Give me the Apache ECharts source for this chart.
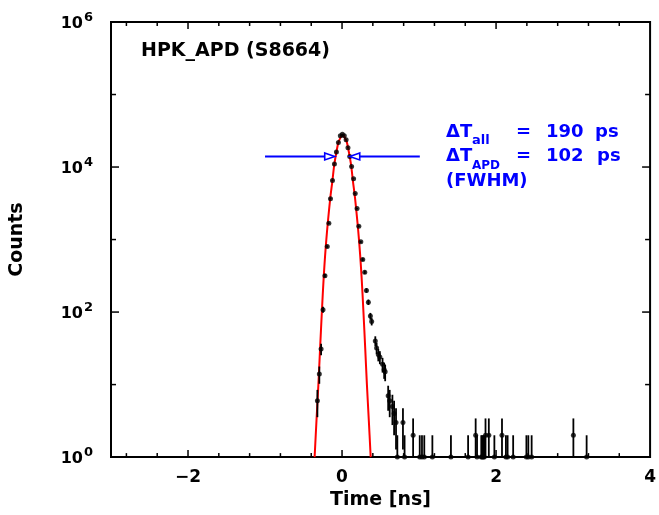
<!DOCTYPE html>
<html><head><meta charset="utf-8">
<script src="https://cdn.jsdelivr.net/npm/echarts@6/dist/echarts.min.js"></script>
<style>html,body{margin:0;padding:0;background:#fff}#c{width:659px;height:515px}</style>
</head><body><div id="c"></div>
<script>
const FONT = '"DejaVu Sans", sans-serif';

// measured histogram (time [ns], counts)
const dataTime = [-0.320,-0.295,-0.272,-0.247,-0.222,-0.192,-0.171,-0.150,-0.124,-0.099,-0.073,-0.047,-0.022,0.004,
  0.029,0.053,0.077,0.100,0.124,0.150,0.171,0.195,0.218,0.244,0.269,0.295,0.317,0.342,0.368,0.385,
  0.432,0.449,0.471,0.491,0.526,0.547,0.560,0.599,0.619,0.654,0.676,0.701,0.718,0.791,0.812,0.923,
  1.009,1.038,1.068,1.173,1.414,1.637,1.735,1.753,1.808,1.820,1.833,1.846,1.863,1.906,1.978,
  2.077,2.128,2.150,2.222,2.394,2.419,2.462,3.004,3.176];
const dataCounts = [6,14,31,108,317,800,1680,3660,6500,11000,16100,21800,27000,28400,
  27000,23800,18500,14000,10200,6900,4300,2670,1525,930,531,355,199,137,88,74,
  40,32,26,24,19,16,15,7,6,5,4,3,1,3,1,2,
  1,1,1,1,1,1,2,1,1,1,1,1,2,2,1,
  2,1,1,1,1,1,1,2,1];

// Gaussian fit curve
const fitTime = [-0.356,-0.332,-0.307,-0.285,-0.262,-0.237,-0.204,-0.154,-0.125,-0.100,-0.072,-0.047,-0.017,0.008,
  0.033,0.063,0.088,0.116,0.141,0.170,0.220,0.253,0.278,0.301,0.323,0.348,0.372];
const fitCounts = [1,3.16,10,31.6,100,316,1000,3630,6460,10960,16220,21880,25800,28200,
  25800,21880,16220,10960,6460,3630,1000,316,100,31.6,10,3.16,1];

// FWHM marker
const fwhmLevel = 14000;
const fwhmLineEnds = [-1.0, 1.01];
const fwhmTips = [-0.095, 0.100];

// axes
const xTickLabels = [-2, 0, 2, 4];
const xMajorTicks = [-2, 0, 2];
const xMinorTicks = [-2.8,-2.4,-1.6,-1.2,-0.8,-0.4,0.4,0.8,1.2,1.6,2.4,2.8,3.2,3.6];
const yLabelExponents = [0, 2, 4, 6];
const yMajorTicks = [100, 10000];
const yMinorTicks = [10, 1000, 100000];

const X_MIN = -3, X_MAX = 4, Y_MIN = 1, Y_MAX = 1e6;

const tickSpecs = [];
xMajorTicks.forEach(v => tickSpecs.push({axis: 'x', v, major: true}));
xMinorTicks.forEach(v => tickSpecs.push({axis: 'x', v, major: false}));
yMajorTicks.forEach(v => tickSpecs.push({axis: 'y', v, major: true}));
yMinorTicks.forEach(v => tickSpecs.push({axis: 'y', v, major: false}));

const chart = echarts.init(document.getElementById('c'), null, {renderer: 'canvas'});

const points = dataTime.map((t, i) => [t, dataCounts[i]]);
const fit = fitTime.map((t, i) => [t, fitCounts[i]]);

function fmtX(v) {
  if (!xTickLabels.includes(Math.round(v * 1000) / 1000)) return '';
  return v < 0 ? '\u2212' + Math.abs(v) : String(v);
}
function fmtY(v) {
  const e = Math.round(Math.log10(v));
  if (!yLabelExponents.includes(e)) return '';
  return '{b|10}{s|' + e + '}';
}

const blue = '#0000ff';
const T = (text, x, y, size) => ({type: 'text', x, y, z: 100,
  style: {text, fill: blue, font: 'bold ' + size + 'px ' + FONT, align: 'left', verticalAlign: 'middle'}});

chart.setOption({
  animation: false,
  backgroundColor: '#fff',
  grid: {left: 110, top: 22, right: 3, bottom: 57, show: true, borderColor: '#000', borderWidth: 2, backgroundColor: 'transparent'},
  xAxis: {
    type: 'value', min: X_MIN, max: X_MAX, interval: 1,
    axisLine: {show: false}, axisTick: {show: false}, splitLine: {show: false},
    axisLabel: {formatter: fmtX, color: '#000', fontFamily: FONT, fontWeight: 'bold', fontSize: 17, margin: 12, showMinLabel: true, showMaxLabel: true},
    name: 'Time [ns]', nameLocation: 'middle', nameGap: 30,
    nameTextStyle: {color: '#000', fontFamily: FONT, fontWeight: 'bold', fontSize: 19}
  },
  yAxis: {
    type: 'log', logBase: 10, min: Y_MIN, max: Y_MAX,
    axisLine: {show: false}, axisTick: {show: false}, splitLine: {show: false},
    axisLabel: {formatter: fmtY, margin: 18, showMinLabel: true, showMaxLabel: true,
      rich: {
        b: {fontFamily: FONT, fontWeight: 'bold', fontSize: 16, color: '#000', padding: [4, 0, 0, 0]},
        s: {fontFamily: FONT, fontWeight: 'bold', fontSize: 13, color: '#000', padding: [0, 0, 8, 1]}
      }},
    name: 'Counts', nameLocation: 'middle', nameGap: 84, nameRotate: 90,
    nameTextStyle: {color: '#000', fontFamily: FONT, fontWeight: 'bold', fontSize: 19}
  },
  graphic: [
    {type: 'text', x: 141, y: 51, z: 100, style: {text: 'HPK_APD (S8664)', fill: '#000', font: 'bold 19px ' + FONT, align: 'left', verticalAlign: 'middle'}},
    T('\u0394T', 446, 132, 18), T('all', 472, 141, 13), T('=', 516, 132, 18), T('190', 546, 132, 18), T('ps', 595, 132, 18),
    T('\u0394T', 446, 156, 18), T('APD', 472, 166, 12), T('=', 516, 156, 18), T('102', 546, 156, 18), T('ps', 597, 156, 18),
    T('(FWHM)', 446, 181, 18)
  ],
  series: [
    {
      type: 'custom', name: 'ticks', coordinateSystem: 'cartesian2d', silent: true, z: 10, clip: false,
      data: tickSpecs.map(s => s.axis === 'x' ? [s.v, Y_MIN] : [X_MIN, s.v]),
      renderItem: (params, api) => {
        const s = tickSpecs[params.dataIndex];
        const st = {stroke: '#000', lineWidth: 1.5};
        if (s.axis === 'x') {
          const len = s.major ? 7 : 4;
          const b = api.coord([s.v, Y_MIN]), t = api.coord([s.v, Y_MAX]);
          return {type: 'group', children: [
            {type: 'line', shape: {x1: b[0], y1: b[1], x2: b[0], y2: b[1] - len}, style: st},
            {type: 'line', shape: {x1: t[0], y1: t[1], x2: t[0], y2: t[1] + len}, style: st}
          ]};
        } else {
          const len = s.major ? 8 : 5;
          const l = api.coord([X_MIN, s.v]), r = api.coord([X_MAX, s.v]);
          return {type: 'group', children: [
            {type: 'line', shape: {x1: l[0], y1: l[1], x2: l[0] + len, y2: l[1]}, style: st},
            {type: 'line', shape: {x1: r[0], y1: r[1], x2: r[0] - len, y2: r[1]}, style: st}
          ]};
        }
      }
    },
    {
      type: 'line', name: 'fit', data: fit, smooth: 0.35, showSymbol: false, symbol: 'none',
      lineStyle: {color: '#ff0000', width: 2}, z: 3
    },
    {
      type: 'custom', name: 'errors', coordinateSystem: 'cartesian2d', z: 4,
      data: points,
      renderItem: (params, api) => {
        const x = api.value(0), n = api.value(1);
        const lo = Math.max(n - Math.sqrt(n), Y_MIN), hi = n + Math.sqrt(n);
        const a = api.coord([x, lo]), b = api.coord([x, hi]);
        return {type: 'line', shape: {x1: a[0], y1: a[1], x2: b[0], y2: b[1]}, style: {stroke: '#000', lineWidth: 1.8}};
      }
    },
    {
      type: 'scatter', name: 'data', data: points, symbol: 'circle', symbolSize: 5,
      itemStyle: {color: '#000'}, z: 5
    },
    {
      type: 'custom', name: 'fwhm', coordinateSystem: 'cartesian2d', z: 6, clip: false,
      data: [[0, fwhmLevel]],
      renderItem: (params, api) => {
        const lvl = api.value(1);
        const L0 = api.coord([fwhmLineEnds[0], lvl]), L1 = api.coord([fwhmLineEnds[1], lvl]);
        const tl = api.coord([fwhmTips[0], lvl]), tr = api.coord([fwhmTips[1], lvl]);
        const y = L0[1], al = 10, ah = 3.5;
        const st = {stroke: blue, lineWidth: 2};
        return {type: 'group', children: [
          {type: 'line', shape: {x1: L0[0], y1: y, x2: tl[0] - al, y2: y}, style: st},
          {type: 'polygon', shape: {points: [[tl[0] - al, y - ah], [tl[0], y], [tl[0] - al, y + ah]]}, style: {stroke: blue, fill: '#fff', lineWidth: 1.6}},
          {type: 'line', shape: {x1: tr[0] + al, y1: y, x2: L1[0], y2: y}, style: st},
          {type: 'polygon', shape: {points: [[tr[0] + al, y - ah], [tr[0], y], [tr[0] + al, y + ah]]}, style: {stroke: blue, fill: '#fff', lineWidth: 1.6}}
        ]};
      }
    }
  ]
});
</script></body></html>
